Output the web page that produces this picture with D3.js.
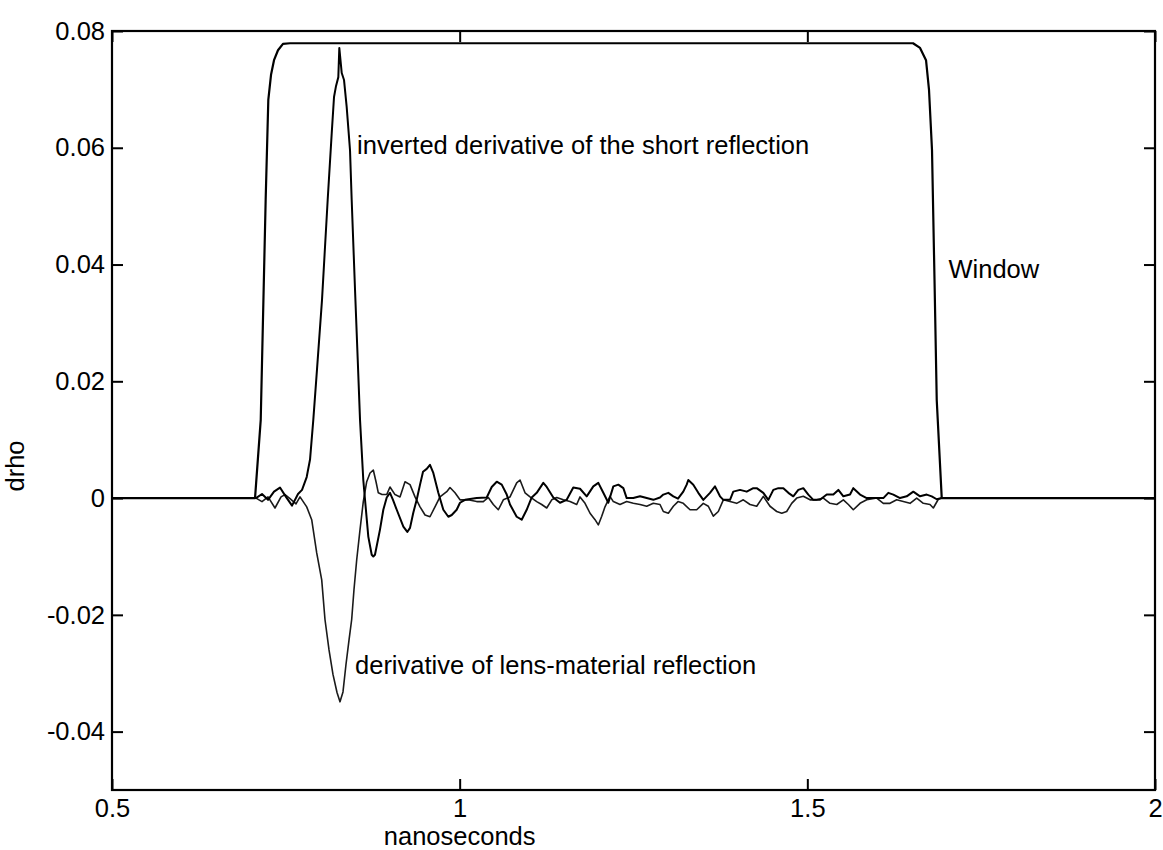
<!DOCTYPE html>
<html>
<head>
<meta charset="utf-8">
<script src="https://cdn.jsdelivr.net/npm/d3@7"></script>
<style>
html,body{margin:0;padding:0;background:#fff;}
svg{display:block;}
text{font-family:"Liberation Sans",Arial,Helvetica,sans-serif;fill:#000;}
</style>
</head>
<body>
<svg id="chart" width="1163" height="850"></svg>
<script>
// ---- data (nanoseconds, drho) ----
const xTicks = [0.5, 1, 1.5, 2];
const xTickLabels = ["0.5", "1", "1.5", "2"];
const yTicks = [-0.04, -0.02, 0, 0.02, 0.04, 0.06, 0.08];
const yTickLabels = ["-0.04", "-0.02", "0", "0.02", "0.04", "0.06", "0.08"];

const windowX = [0.5, 0.7057, 0.7139, 0.7210, 0.7248, 0.7287, 0.7330, 0.7387, 0.7459, 0.7560,
  1.6520, 1.6621, 1.6707, 1.6750, 1.6793, 1.6829, 1.6861, 1.6933, 2.0];
const windowY = [0, 0, 0.0134, 0.0511, 0.0682, 0.0725, 0.0750, 0.0767, 0.0778, 0.0779,
  0.0779, 0.0771, 0.0750, 0.0699, 0.0596, 0.0374, 0.0168, 0, 0];

const shortX = [0.5, 0.7071, 0.7157, 0.7244, 0.7330, 0.7416, 0.7502, 0.7589, 0.7675, 0.7733,
  0.7800, 0.7848, 0.7895, 0.7948, 0.8020, 0.8102, 0.8160, 0.8193, 0.8222, 0.8255,
  0.8269, 0.8304, 0.8337, 0.8375, 0.8423, 0.8447, 0.8495, 0.8534, 0.8567, 0.8614,
  0.8639, 0.8686, 0.8735, 0.8758, 0.8782, 0.8854, 0.8902, 0.8951, 0.8998, 0.9041,
  0.9095, 0.9190, 0.9247, 0.9286, 0.9333, 0.9382, 0.9430, 0.9473, 0.9526, 0.9573,
  0.9621, 0.9693, 0.9765, 0.9837, 0.9886, 0.9957, 1.0005, 1.0077, 1.0245, 1.0389,
  1.0461, 1.0533, 1.0605, 1.0677, 1.0724, 1.0820, 1.0892, 1.0964, 1.1036, 1.1108,
  1.1203, 1.1252, 1.1347, 1.1443, 1.1539, 1.1634, 1.1731, 1.1827, 1.1922, 1.1994,
  1.2066, 1.2138, 1.2210, 1.2282, 1.2354, 1.2402, 1.2497, 1.2594, 1.2690, 1.2785,
  1.2881, 1.2929, 1.3001, 1.3073, 1.3140, 1.3216, 1.3265, 1.3288, 1.3360, 1.3432,
  1.3504, 1.3600, 1.3672, 1.3744, 1.3792, 1.3888, 1.3935, 1.4032, 1.4128, 1.4223,
  1.4272, 1.4367, 1.4439, 1.4511, 1.4583, 1.4655, 1.4727, 1.4798, 1.4870, 1.4942,
  1.5014, 1.5086, 1.5182, 1.5279, 1.5374, 1.5446, 1.5518, 1.5614, 1.5661, 1.5758,
  1.5854, 1.5998, 1.6093, 1.6165, 1.6237, 1.6333, 1.6429, 1.6524, 1.6621, 1.6717,
  1.6789, 1.6861, 1.6933, 2.0];
const shortY = [0, 0, 0.0007, -0.0003, 0.0011, 0.0018, 0.0002, -0.0013, 0.0007, 0.0014,
  0.0036, 0.0066, 0.0134, 0.0220, 0.0339, 0.0511, 0.0625, 0.0687, 0.0706, 0.0721,
  0.0771, 0.0728, 0.0716, 0.0670, 0.0596, 0.0511, 0.0357, 0.0237, 0.0134, 0.0031,
  -0.0003, -0.0066, -0.0097, -0.0100, -0.0097, -0.0054, -0.0020, 0.0001, 0.0009, -0.0003,
  -0.0020, -0.0049, -0.0058, -0.0051, -0.0025, -0.0003, 0.0023, 0.0045, 0.0050, 0.0057,
  0.0043, 0.0009, -0.0020, -0.0032, -0.0029, -0.0020, -0.0008, -0.0003, 0, 0.0001,
  0.0019, 0.0028, 0.0023, 0.0006, -0.0011, -0.0032, -0.0037, -0.0020, 0.0001, 0.0009,
  0.0026, 0.0019, 0.0001, -0.0008, -0.0003, 0.0018, 0.0016, 0.0003, 0.0020, 0.0026,
  0.0009, -0.0008, 0.0020, 0.0023, 0.0017, 0, 0, 0.0003, 0, -0.0003,
  0.0001, 0.0006, 0.0009, 0.0003, -0.0001, 0.0011, 0.0023, 0.0031, 0.0023, 0.0009,
  -0.0003, 0.0009, 0.0020, 0.0003, -0.0003, -0.0003, 0.0011, 0.0014, 0.0011, 0.0017,
  0.0017, 0.0009, -0.0003, 0.0014, 0.0017, 0.0017, 0.0009, 0.0003, 0.0014, 0.0017,
  0.0006, -0.0003, -0.0003, 0.0006, 0.0006, 0.0014, 0.0003, 0.0006, 0.0017, 0.0006,
  0, 0, 0, 0.0009, 0.0006, 0, 0.0003, 0.0011, 0.0003, 0.0006,
  0.0003, -0.0002, 0, 0];

const lensX = [0.5, 0.7071, 0.7157, 0.7244, 0.7344, 0.7431, 0.7488, 0.7560, 0.7646, 0.7704,
  0.7800, 0.7872, 0.7944, 0.8016, 0.8063, 0.8121, 0.8178, 0.8236, 0.8279, 0.8322,
  0.8365, 0.8409, 0.8447, 0.8480, 0.8519, 0.8567, 0.8614, 0.8663, 0.8711, 0.8758,
  0.8797, 0.8830, 0.8883, 0.8951, 0.8998, 0.9070, 0.9142, 0.9214, 0.9286, 0.9358,
  0.9430, 0.9502, 0.9573, 0.9645, 0.9717, 0.9814, 0.9861, 0.9933, 1.0005, 1.0120,
  1.0245, 1.0340, 1.0412, 1.0484, 1.0556, 1.0628, 1.0724, 1.0820, 1.0868, 1.0940,
  1.1012, 1.1108, 1.1180, 1.1252, 1.1324, 1.1396, 1.1491, 1.1587, 1.1683, 1.1731,
  1.1803, 1.1875, 1.1947, 1.1994, 1.2043, 1.2090, 1.2162, 1.2210, 1.2306, 1.2402,
  1.2497, 1.2594, 1.2690, 1.2785, 1.2881, 1.2929, 1.3001, 1.3073, 1.3140, 1.3216,
  1.3313, 1.3409, 1.3504, 1.3576, 1.3648, 1.3720, 1.3792, 1.3888, 1.3984, 1.4079,
  1.4176, 1.4272, 1.4367, 1.4463, 1.4560, 1.4632, 1.4703, 1.4775, 1.4847, 1.4942,
  1.5039, 1.5135, 1.5230, 1.5326, 1.5423, 1.5518, 1.5590, 1.5661, 1.5758, 1.5854,
  1.5998, 1.6093, 1.6189, 1.6285, 1.6380, 1.6477, 1.6573, 1.6668, 1.6764, 1.6812,
  1.6884, 1.6933, 2.0];
const lensY = [0, 0, -0.0006, 0.0002, -0.0017, 0.0002, 0.0006, -0.0001, -0.0010, 0.0002,
  -0.0015, -0.0037, -0.0094, -0.0140, -0.0208, -0.0260, -0.0302, -0.0333, -0.0349, -0.0332,
  -0.0285, -0.0243, -0.0208, -0.0157, -0.0106, -0.0054, -0.0006, 0.0028, 0.0043, 0.0048,
  0.0028, 0.0009, 0.0006, 0.0006, 0.0019, 0.0006, 0.0002, 0.0028, 0.0023, 0.0002,
  -0.0015, -0.0029, -0.0032, -0.0015, 0.0002, 0.0011, 0.0018, 0.0009, -0.0003, -0.0003,
  -0.0006, -0.0006, 0.0001, -0.0011, -0.0020, -0.0003, 0.0002, 0.0026, 0.0031, 0.0009,
  0.0002, -0.0006, -0.0011, -0.0017, -0.0003, 0.0001, -0.0003, -0.0006, -0.0011, 0.0002,
  -0.0009, -0.0026, -0.0037, -0.0046, -0.0031, -0.0015, 0.0003, -0.0006, -0.0011, -0.0006,
  -0.0009, -0.0011, -0.0014, -0.0009, -0.0011, -0.0023, -0.0026, -0.0014, -0.0006, -0.0009,
  -0.0020, -0.0020, -0.0009, -0.0014, -0.0031, -0.0023, -0.0003, -0.0006, -0.0009, -0.0003,
  -0.0011, -0.0014, 0.0003, -0.0014, -0.0023, -0.0026, -0.0023, -0.0009, 0, 0.0003,
  -0.0003, -0.0003, 0, -0.0009, -0.0011, -0.0003, -0.0011, -0.0020, -0.0009, -0.0003,
  0, -0.0009, -0.0009, -0.0003, -0.0006, -0.0009, 0, -0.0009, -0.0011, -0.0017,
  -0.0002, 0, 0];

const annotations = [
  {text: "inverted derivative of the short reflection", x: 0.8524, y: 0.0589},
  {text: "Window", x: 1.7030, y: 0.0377},
  {text: "derivative of lens-material reflection", x: 0.8495, y: -0.0301}
];
const xLabel = "nanoseconds";
const yLabel = "drho";

// ---- layout ----
const W = 1163, H = 850;
const margin = {left: 112, right: 8, top: 31, bottom: 60};
const pw = W - margin.left - margin.right;
const ph = H - margin.top - margin.bottom;
const FS = 25.5;

const svg = d3.select("#chart");
svg.append("rect").attr("width", W).attr("height", H).attr("fill", "#fff");

const xScale = d3.scaleLinear().domain([0.5, 2]).range([0, pw]);
const yScale = d3.scaleLinear().domain([-0.05, 0.08]).range([ph, 0]);

const g = svg.append("g").attr("transform", `translate(${margin.left},${margin.top})`);

// series
const lineGen = d3.line().x(d => xScale(d[0])).y(d => yScale(d[1]));
const zip = (a, b) => a.map((v, i) => [v, b[i]]);

g.append("path").datum(zip(lensX, lensY))
  .attr("d", lineGen).attr("fill", "none").attr("stroke", "#1a1a1a")
  .attr("stroke-width", 1.6).attr("stroke-linejoin", "round");
g.append("path").datum(zip(shortX, shortY))
  .attr("d", lineGen).attr("fill", "none").attr("stroke", "#000")
  .attr("stroke-width", 2).attr("stroke-linejoin", "round");
g.append("path").datum(zip(windowX, windowY))
  .attr("d", lineGen).attr("fill", "none").attr("stroke", "#000")
  .attr("stroke-width", 2.2).attr("stroke-linejoin", "round");

// axes (ticks inward on all four sides)
const TL = 11;
const axLeft = g.append("g")
  .call(d3.axisLeft(yScale).tickValues(yTicks).tickFormat((d, i) => yTickLabels[i])
    .tickSizeInner(-TL).tickSizeOuter(0).tickPadding(7));
const axRight = g.append("g").attr("transform", `translate(${pw},0)`)
  .call(d3.axisRight(yScale).tickValues(yTicks).tickFormat("")
    .tickSizeInner(-TL).tickSizeOuter(0));
const axBottom = g.append("g").attr("transform", `translate(0,${ph})`)
  .call(d3.axisBottom(xScale).tickValues(xTicks).tickFormat((d, i) => xTickLabels[i])
    .tickSizeInner(-TL).tickSizeOuter(0).tickPadding(9));
const axTop = g.append("g")
  .call(d3.axisTop(xScale).tickValues(xTicks).tickFormat("")
    .tickSizeInner(-TL).tickSizeOuter(0));

[axLeft, axRight, axBottom, axTop].forEach(a => {
  a.select(".domain").remove();
  a.selectAll(".tick line").attr("stroke", "#000").attr("stroke-width", 2);
  a.selectAll(".tick text")
    .style("font-family", '"Liberation Sans", Arial, sans-serif')
    .style("font-size", FS + "px").attr("fill", "#000");
});

// frame
g.append("rect").attr("x", 0).attr("y", 0).attr("width", pw).attr("height", ph)
  .attr("fill", "none").attr("stroke", "#000").attr("stroke-width", 2.2);

// annotations
g.selectAll("text.ann").data(annotations).enter().append("text")
  .attr("class", "ann")
  .attr("x", d => xScale(d.x)).attr("y", d => yScale(d.y))
  .style("font-size", FS + "px")
  .text(d => d.text);

// axis titles
svg.append("text")
  .attr("x", margin.left + xScale(1.0)).attr("y", 845)
  .attr("text-anchor", "middle").style("font-size", FS + "px")
  .text(xLabel);
svg.append("text")
  .attr("transform", `translate(24,466) rotate(-90)`)
  .attr("text-anchor", "middle").style("font-size", FS + "px")
  .text(yLabel);
</script>
</body>
</html>
